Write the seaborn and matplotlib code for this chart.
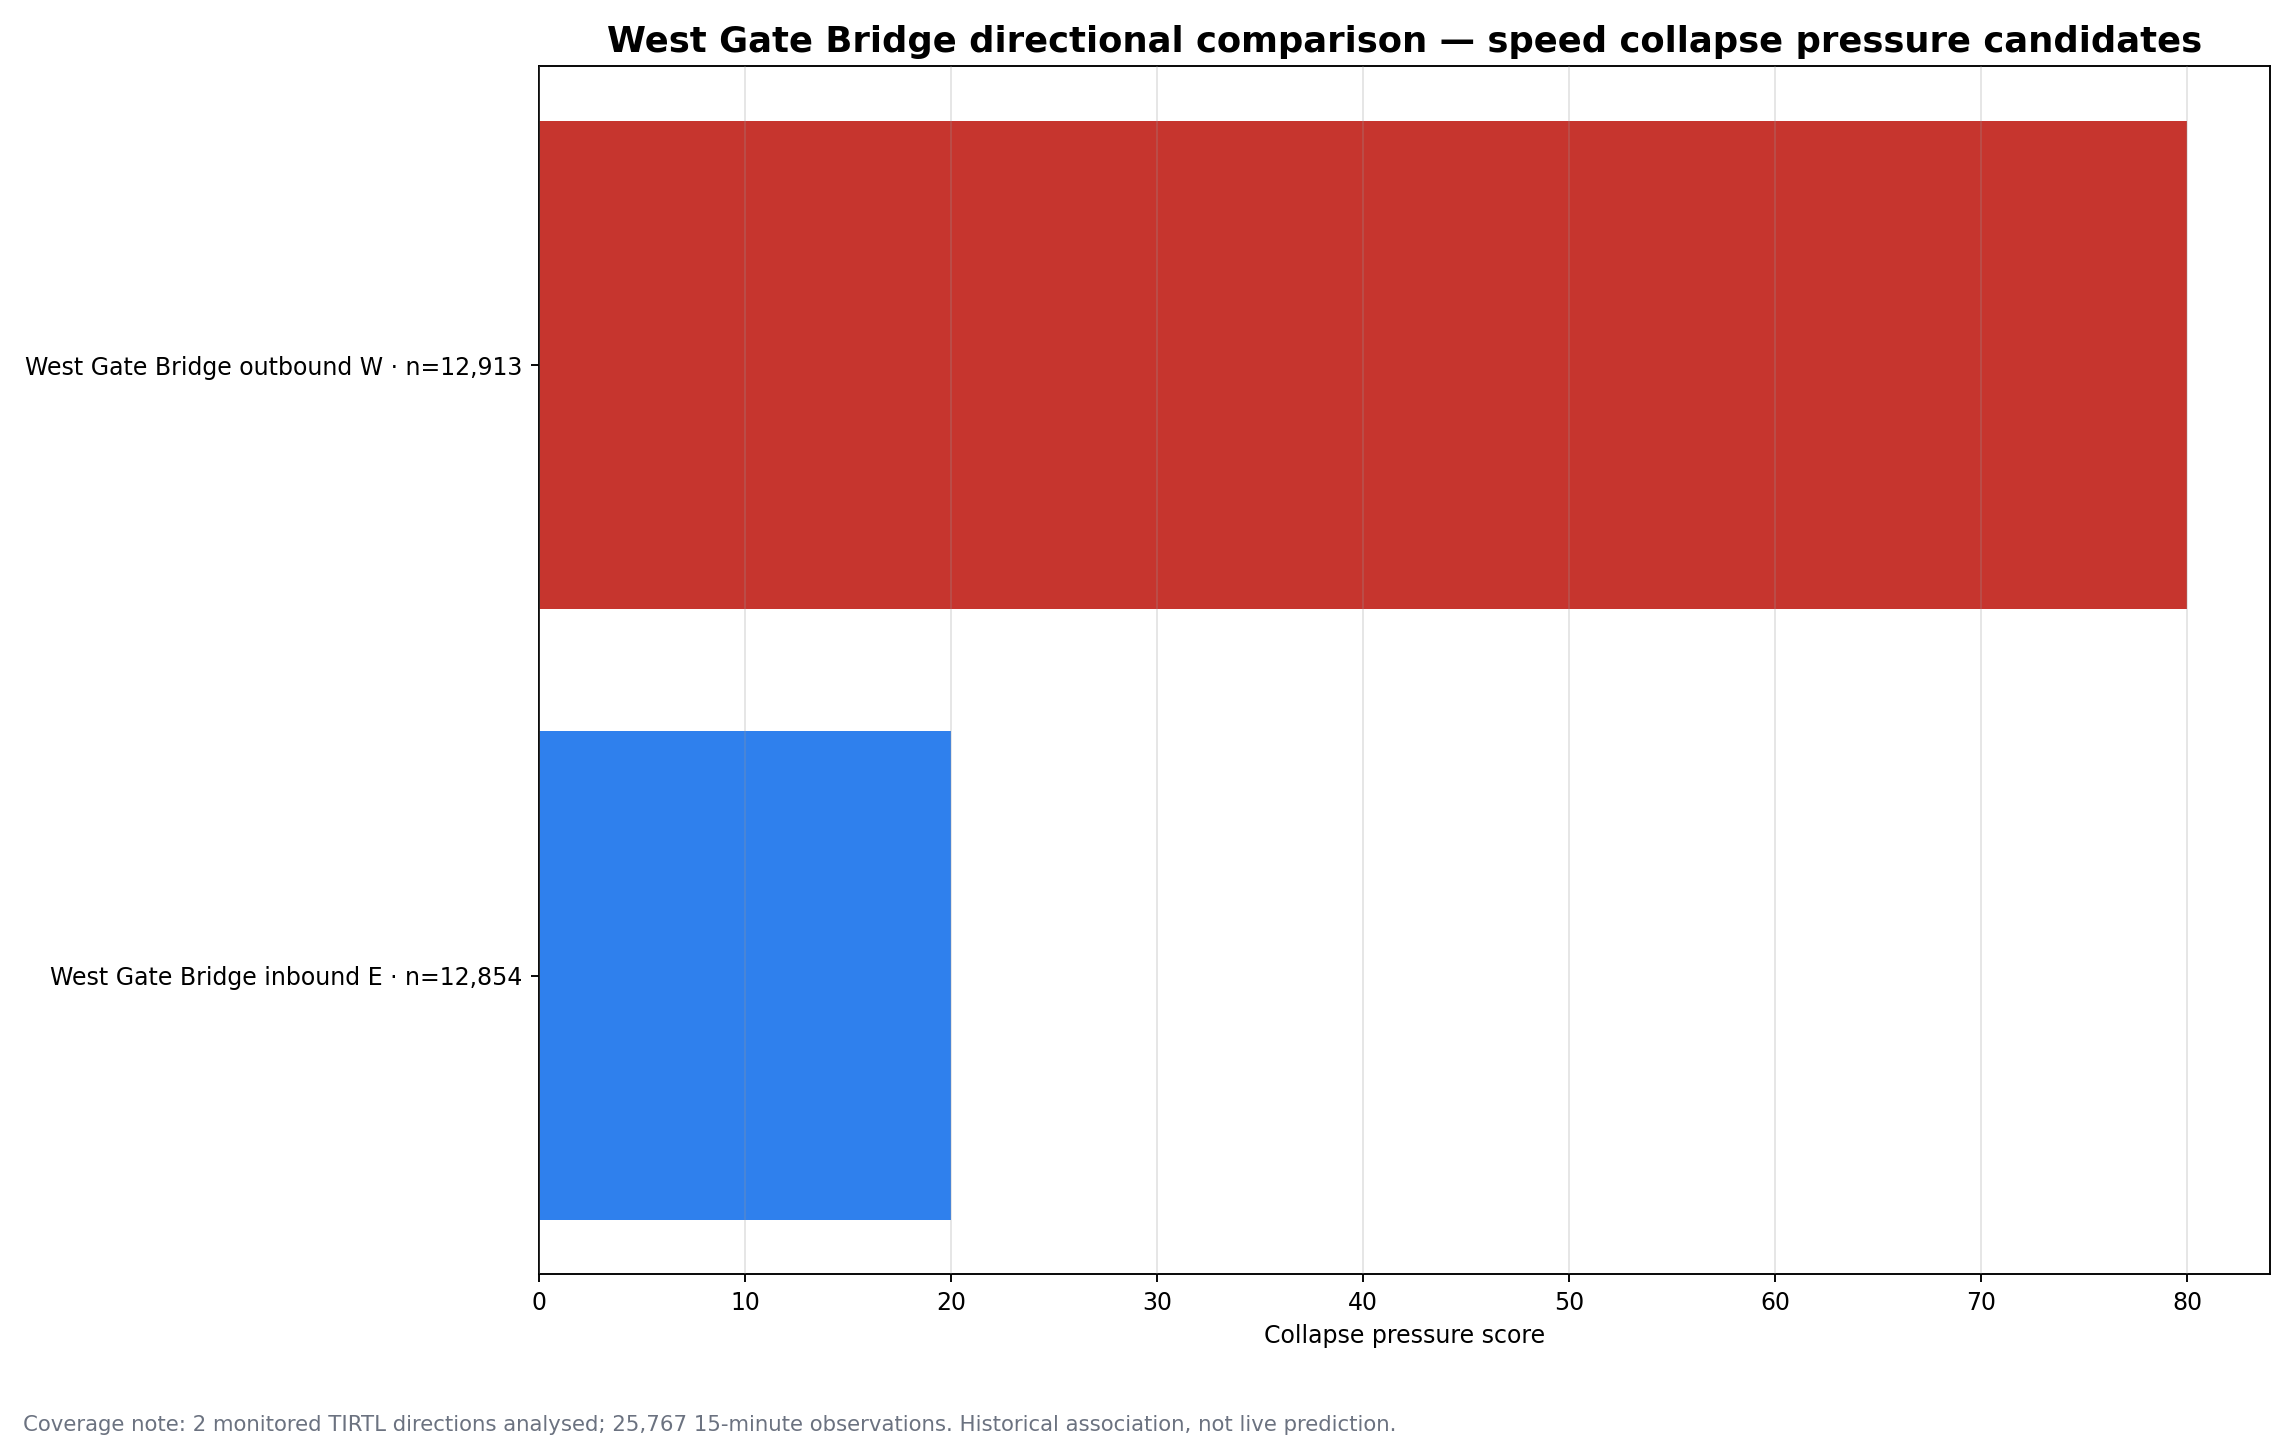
import matplotlib
matplotlib.use("Agg")
import matplotlib.pyplot as plt
import seaborn as sns
import pandas as pd

# data
labels = ["West Gate Bridge outbound W · n=12,913", "West Gate Bridge inbound E · n=12,854"]
scores = [80, 20]
colors = ["#C6352E", "#2F80ED"]

df = pd.DataFrame({"label": labels, "score": scores})

fig, ax = plt.subplots(figsize=(13.5, 8.5), dpi=170)
fig.subplots_adjust(left=0.235, right=0.989, top=0.954, bottom=0.118)

sns.barplot(data=df, y="label", x="score", hue="label", palette=colors,
            orient="h", width=0.8, legend=False, saturation=1, ax=ax)

# matplotlib-style 5% margins around the bars
ax.set_ylim(1.49, -0.49)
ax.set_axisbelow(False)
ax.grid(axis="x", color="#999999", alpha=0.25, linewidth=0.8)
ax.set_ylabel("")
ax.set_xlabel("Collapse pressure score", fontsize=10)
ax.tick_params(labelsize=10)
ax.set_title("West Gate Bridge directional comparison — speed collapse pressure candidates",
             fontsize=15, fontweight="bold")

fig.text(0.010, 0.010, "Coverage note: 2 monitored TIRTL directions analysed; 25,767 15-minute observations. "
         "Historical association, not live prediction.", fontsize=9, color="#6b7280")

fig.savefig("out.png", dpi=170)
